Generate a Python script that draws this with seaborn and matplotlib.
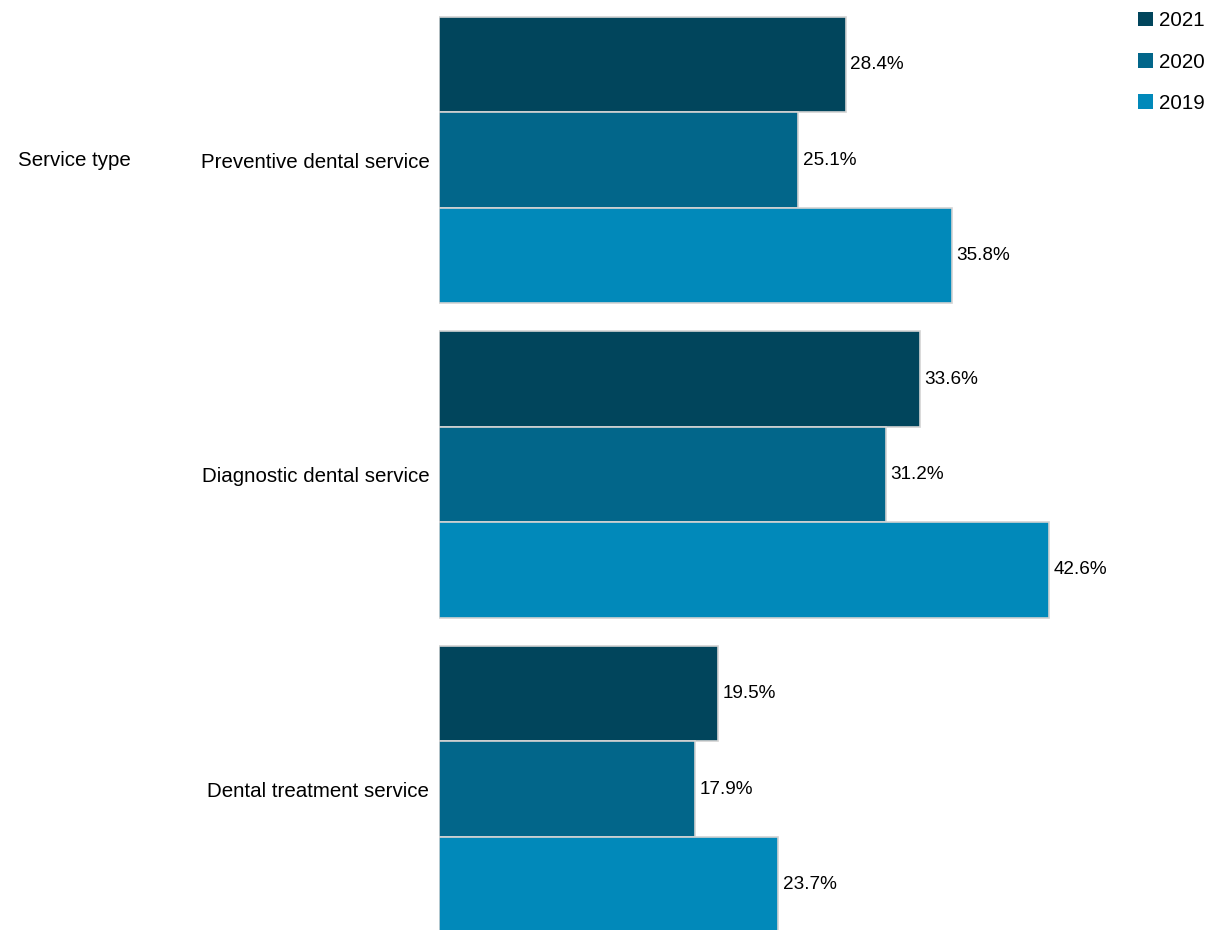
import matplotlib
matplotlib.use("Agg")
import matplotlib.pyplot as plt
import seaborn as sns
import pandas as pd
from matplotlib.patches import Patch

services = ["Preventive dental service", "Diagnostic dental service", "Dental treatment service"]
years = ["2021", "2020", "2019"]
pct_2021 = [28.4, 33.6, 19.5]
pct_2020 = [25.1, 31.2, 17.9]
pct_2019 = [35.8, 42.6, 23.7]
year_colors = ["#01455C", "#02668A", "#0189BA"]

rows = []
for yr, vals in zip(years, [pct_2021, pct_2020, pct_2019]):
    for svc, v in zip(services, vals):
        rows.append({"service": svc, "year": yr, "pct": v})
df = pd.DataFrame(rows)

sns.set_style("white")
plt.rcParams["font.family"] = ["Liberation Sans", "DejaVu Sans"]
plt.rcParams["text.color"] = "black"
fs_lab = 14.8
fs_val = 13.6

fig = plt.figure(figsize=(12.16, 9.3), dpi=100)
ax = fig.add_axes([439 / 1216, 0, (1120 - 439) / 1216, 1])

sns.barplot(data=df, y="service", x="pct", hue="year", order=services,
            hue_order=years, palette=year_colors, saturation=1, orient="h",
            width=0.91, edgecolor="#D3D3D3", linewidth=1.2, ax=ax,
            legend=False, errorbar=None)

for cont in ax.containers:
    ax.bar_label(cont, labels=[f"{w:.1f}%" for w in cont.datavalues],
                 padding=3, fontsize=fs_val, color="black")

ax.set_xlim(0, 681 / 14.32)
ax.set_ylim(2.448, -0.509)
ax.set_xlabel("")
ax.set_ylabel("")
ax.set_xticks([])
ax.tick_params(axis="y", length=0, pad=7, labelsize=fs_lab, labelcolor="black")
for s in ax.spines.values():
    s.set_visible(False)

fig.text(18 / 1216, 1 - 160 / 930, "Service type", ha="left", va="center",
         fontsize=fs_lab, color="black")

handles = [Patch(facecolor=c, edgecolor="none") for c in year_colors]
fig.legend(handles, years, loc="upper right", bbox_to_anchor=(1.0, 1.0),
           frameon=False, fontsize=fs_lab, handlelength=0.7, handleheight=0.7,
           handletextpad=0.3, labelspacing=1.08, borderaxespad=0.15)

fig.savefig("out.png", dpi=100)
